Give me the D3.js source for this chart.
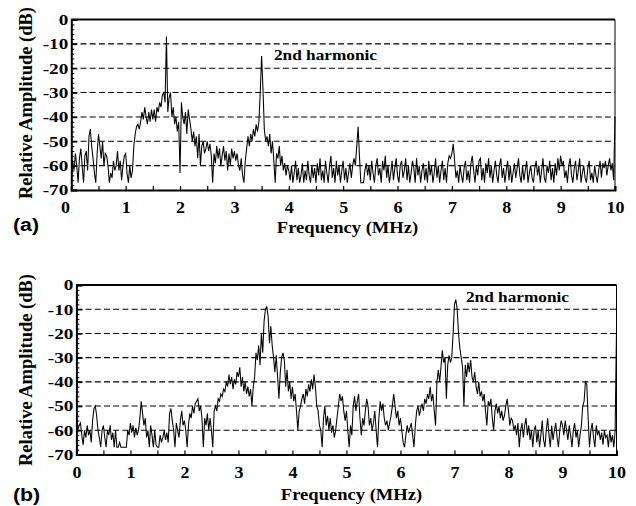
<!DOCTYPE html>
<html><head><meta charset="utf-8">
<script src="https://cdn.jsdelivr.net/npm/d3@7"></script>
<style>body{margin:0;background:#fff}</style>
</head><body>
<svg id="c" width="636" height="506"></svg>
<script>
// ---------- data ----------
const xTickValues = [0,1,2,3,4,5,6,7,8,9,10];
const yTickValues = [0,-10,-20,-30,-40,-50,-60,-70];
const gridValues = [-10,-20,-30,-40,-50,-60];
const sampleStep = 0.025; // MHz between spectrum samples
const panelLabels = ["(a)", "(b)"];
const xTitle = "Frequency (MHz)";
const yTitle = "Relative Amplitude (dB)";
const annotation = "2nd harmonic";

const ampA = [
-67,-58,-62,-55,-60,-67,-57,-53,-60,-67,-56,-54,-62,-48,-45,-52,-57,-63,-67,-55,
-47,-52,-57,-50,-60,-55,-56,-60,-67,-63,-65,-58,-62,-60,-54,-62,-58,-66,-60,-56,
-55,-63,-67,-60,-65,-62,-52,-47,-44,-43,-45,-42,-38,-41,-36,-40,-43,-38,-42,-37,
-41,-37,-42,-36,-38,-34,-36,-31,-30,-34,-7,-38,-32,-30,-40,-36,-43,-40,-46,-42,
-63,-34,-40,-43,-38,-47,-37,-41,-45,-50,-46,-52,-48,-57,-47,-60,-52,-50,-55,-53,
-50,-54,-51,-56,-67,-55,-59,-52,-57,-53,-60,-56,-52,-58,-54,-62,-55,-60,-53,-57,
-54,-58,-55,-60,-62,-57,-64,-67,-58,-53,-48,-52,-47,-50,-45,-48,-43,-46,-42,-30,
-15,-28,-45,-50,-48,-52,-47,-55,-50,-58,-67,-55,-57,-52,-60,-56,-62,-59,-64,-60,
-62,-66,-60,-67,-63,-58,-66,-61,-67,-64,-59,-67,-62,-66,-58,-64,-67,-60,-65,-61,
-67,-59,-64,-57,-66,-62,-67,-58,-63,-67,-60,-56,-65,-61,-67,-58,-64,-60,-67,-62,
-58,-66,-61,-67,-63,-59,-65,-60,-57,-60,-52,-44,-56,-67,-67,-67,-62,-59,-64,-60,
-66,-58,-63,-67,-60,-57,-64,-61,-67,-58,-62,-56,-65,-60,-67,-63,-58,-66,-61,-57,
-64,-67,-60,-58,-65,-62,-57,-66,-60,-67,-63,-58,-61,-67,-57,-64,-60,-67,-62,-59,
-66,-61,-67,-58,-64,-60,-67,-63,-57,-65,-60,-67,-62,-58,-66,-61,-67,-59,-56,-57,
-55,-51,-58,-65,-62,-67,-60,-64,-67,-61,-58,-66,-62,-67,-59,-56,-62,-67,-60,-64,
-58,-57,-66,-61,-67,-59,-63,-57,-65,-60,-67,-62,-58,-64,-67,-60,-57,-65,-61,-67,
-62,-58,-66,-60,-67,-63,-59,-65,-61,-57,-64,-67,-60,-66,-62,-58,-67,-63,-60,-65,
-67,-61,-58,-64,-60,-67,-62,-57,-65,-67,-60,-63,-58,-66,-61,-67,-59,-64,-57,-62,
-56,-60,-58,-65,-62,-67,-60,-57,-64,-67,-61,-58,-66,-62,-57,-67,-63,-60,-65,-67,
-61,-58,-66,-63,-67,-60,-64,-67,-62,-58,-65,-59,-61,-58,-64,-60,-57,-62,-59,-66,
-40];

const ampB = [
-57,-60,-58,-57,-62,-66,-60,-63,-58,-62,-60,-65,-56,-51,-50,-54,-60,-63,-67,-60,
-58,-63,-67,-60,-62,-58,-64,-61,-67,-60,-67,-67,-65,-67,-67,-67,-67,-67,-60,-62,
-57,-61,-58,-63,-59,-62,-60,-55,-48,-53,-58,-55,-63,-60,-67,-58,-62,-67,-60,-66,
-67,-67,-62,-65,-63,-60,-64,-61,-65,-53,-51,-56,-60,-67,-57,-60,-63,-56,-52,-58,
-56,-60,-67,-58,-53,-55,-50,-53,-49,-48,-47,-52,-50,-55,-67,-55,-58,-53,-60,-55,
-60,-67,-52,-50,-52,-47,-48,-45,-46,-43,-44,-40,-42,-37,-41,-38,-43,-39,-41,-36,
-38,-34,-42,-38,-44,-40,-45,-42,-46,-43,-50,-42,-38,-28,-31,-25,-33,-20,-28,-15,
-10,-9,-13,-24,-17,-25,-30,-36,-29,-38,-47,-36,-30,-28,-31,-42,-35,-44,-40,-47,
-42,-48,-45,-52,-60,-52,-50,-47,-45,-49,-43,-46,-41,-44,-39,-43,-37,-42,-50,-52,
-58,-60,-67,-55,-50,-58,-54,-60,-55,-61,-58,-63,-60,-55,-50,-45,-48,-46,-52,-56,
-52,-60,-67,-58,-62,-50,-46,-52,-48,-45,-55,-62,-55,-58,-52,-47,-50,-58,-55,-60,
-57,-52,-60,-67,-55,-48,-52,-49,-55,-58,-56,-60,-57,-54,-50,-45,-50,-55,-52,-58,
-55,-60,-65,-67,-62,-58,-61,-59,-57,-62,-67,-58,-52,-50,-54,-51,-49,-52,-47,-49,
-45,-47,-42,-48,-45,-52,-58,-40,-35,-40,-34,-27,-32,-30,-47,-33,-29,-32,-30,-20,
-8,-6,-10,-20,-26,-30,-34,-50,-33,-38,-32,-36,-31,-38,-40,-36,-42,-45,-40,-46,
-44,-48,-45,-52,-58,-48,-50,-47,-55,-60,-52,-49,-53,-50,-55,-52,-56,-54,-50,-47,
-52,-58,-55,-56,-60,-58,-62,-57,-67,-60,-57,-63,-58,-55,-62,-58,-64,-60,-67,-60,
-58,-65,-60,-67,-62,-56,-64,-67,-60,-55,-62,-67,-58,-64,-60,-57,-63,-67,-60,-56,
-58,-62,-56,-60,-64,-58,-62,-67,-60,-57,-63,-60,-67,-62,-58,-50,-48,-40,-41,-55,
-67,-60,-57,-63,-67,-58,-62,-60,-64,-61,-66,-60,-63,-62,-67,-60,-65,-62,-67,-60,
-18];

// ---------- layout ----------
const panels = [
  {amp: ampA, label: panelLabels[0], x0: 71.3, x1: 615, yTop: 19.5, yBot: 190,
   labelFirstDx: -6, annX: 274, annY: 60, yTitleY: 103, xTitleX: 347.5, xTitleY: 233, tagY: 231},
  {amp: ampB, label: panelLabels[1], x0: 76.4, x1: 616.5, yTop: 285, yBot: 454.5,
   labelFirstDx: 0, annX: 466, annY: 302, yTitleY: 370, xTitleX: 351.5, xTitleY: 500, tagY: 501}
];

const svg = d3.select("#c");
const serif = "'Liberation Serif','Times New Roman',serif";
const sans = "'Liberation Sans',Arial,sans-serif";

panels.forEach(p => {
  const x = d3.scaleLinear().domain([0, 10]).range([p.x0, p.x1]);
  const y = d3.scaleLinear().domain([-70, 0]).range([p.yBot, p.yTop]);
  const g = svg.append("g");

  // dashed grid
  g.append("g").selectAll("line").data(gridValues).join("line")
    .attr("x1", x(0)).attr("x2", x(10))
    .attr("y1", d => y(d)).attr("y2", d => y(d))
    .attr("stroke", "#000").attr("stroke-width", 1.1)
    .attr("stroke-dasharray", "6,3.2");

  // spectrum
  const pts = p.amp.map((v, i) => [i * sampleStep, v]);
  const line = d3.line().x(d => x(d[0])).y(d => y(d[1]));
  g.append("path").datum(pts).attr("d", line)
    .attr("fill", "none").attr("stroke", "#000").attr("stroke-width", 1.05)
    .attr("stroke-linejoin", "miter");

  // frame (top, right)
  g.append("line").attr("x1", x(0)).attr("x2", x(10)).attr("y1", y(0)).attr("y2", y(0))
    .attr("stroke", "#000").attr("stroke-width", 2);
  g.append("line").attr("x1", x(10)).attr("x2", x(10)).attr("y1", y(0)).attr("y2", y(-70))
    .attr("stroke", "#000").attr("stroke-width", 1);

  // x axis (major + half ticks)
  const minorX = d3.range(0, 10.01, 0.5);
  const xa = g.append("g").attr("transform", `translate(0,${y(-70)})`)
    .call(d3.axisBottom(x).tickValues(minorX).tickSize(-4).tickPadding(11)
      .tickFormat(d => xTickValues.includes(d) ? String(d) : ""));
  xa.select(".domain").attr("stroke-width", 2);
  xa.selectAll(".tick line").attr("stroke-width", 1.2);
  xa.selectAll("text").attr("font-family", serif).attr("font-weight", "bold")
    .attr("font-size", 17).attr("fill", "#000").attr("transform", "scale(1.06,1)");
  xa.selectAll(".tick").filter(d => d === 0).select("text").attr("dx", p.labelFirstDx);

  // y axis: minor ticks every 2 dB
  const ya2 = g.append("g").attr("transform", `translate(${x(0)},0)`)
    .call(d3.axisLeft(y).tickValues(d3.range(-70, 0.1, 2)).tickSize(-3).tickFormat(""));
  ya2.select(".domain").remove();
  ya2.selectAll(".tick line").attr("stroke-width", 1);
  const ya = g.append("g").attr("transform", `translate(${x(0)},0)`)
    .call(d3.axisLeft(y).tickValues(yTickValues).tickSize(-6).tickPadding(2.4)
      .tickFormat(d => String(d)));
  ya.select(".domain").attr("stroke-width", 2);
  ya.selectAll(".tick line").attr("stroke-width", 1.5);
  ya.selectAll("text").attr("font-family", serif).attr("font-weight", "bold")
    .attr("font-size", 15).attr("fill", "#000").attr("transform", "scale(1.28,1)");

  // annotation
  g.append("text").attr("transform", `translate(${p.annX},${p.annY}) scale(1.15,1)`).text(annotation)
    .attr("font-family", serif).attr("font-weight", "bold").attr("font-size", 15);

  // titles
  g.append("text").attr("transform", `translate(31.5,${p.yTitleY}) rotate(-90) scale(1,1.05)`)
    .attr("text-anchor", "middle").text(yTitle)
    .attr("font-family", serif).attr("font-weight", "bold").attr("font-size", 18.5);
  g.append("text").attr("transform", `translate(${p.xTitleX},${p.xTitleY}) scale(1.16,1)`)
    .attr("text-anchor", "middle")
    .text(xTitle).attr("font-family", serif).attr("font-weight", "bold").attr("font-size", 16);
  g.append("text").attr("transform", `translate(13,${p.tagY}) scale(1.12,1)`).text(p.label)
    .attr("font-family", sans).attr("font-weight", "bold").attr("font-size", 19);
});
</script>
</body></html>
